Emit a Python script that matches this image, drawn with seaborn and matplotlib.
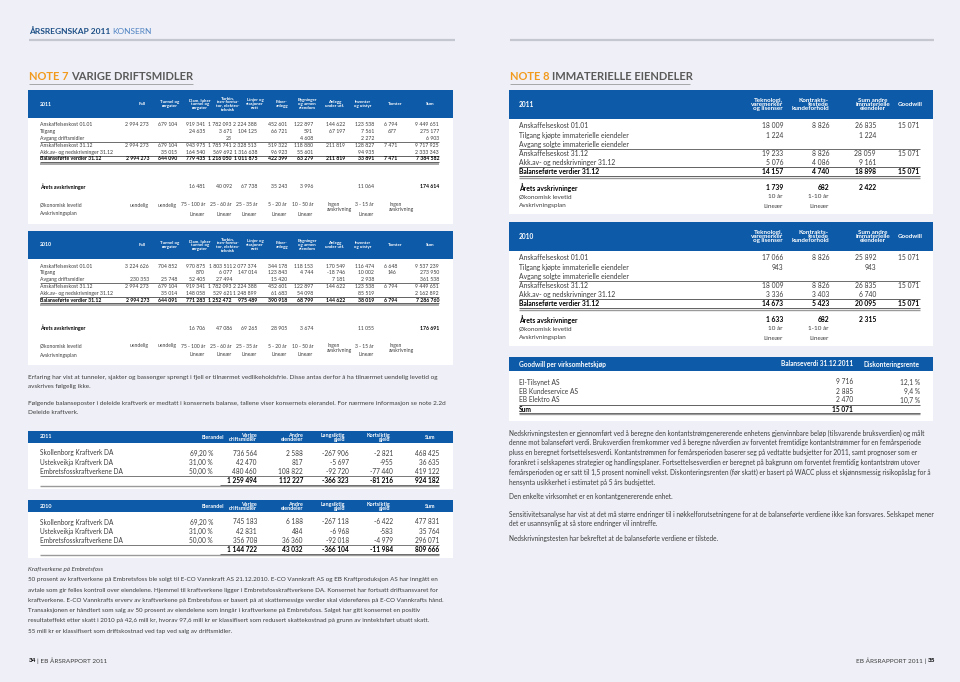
import numpy as np
import matplotlib
matplotlib.use("Agg")
import matplotlib.pyplot as plt
from matplotlib.patches import Rectangle
import seaborn as sns

# ---------------- data: note 7 varige driftsmidler ----------------
n7_heads = ["Fall", "Tunnel og\nrørgater", "Dam, luker\ntunnel og\nrørgater",
            "Turbin,\ntran-forma-\ntor, elektro-\nteknisk", "Linjer og\nstasjoner\nnett",
            "Fiber-\nanlegg", "Bygninger\nog annen\neiendom", "Anlegg\nunder utf.",
            "Inventar\nog utstyr", "Tomter", "Sum"]
n7_labels = ["Anskaffelseskost 01.01", "Tilgang", "Avgang driftsmidler", "Anskaffelseskost 31.12",
             "Akk.av- og nedskrivninger 31.12", "Balanseførte verdier 31.12"]
n7_2011 = [
    ["2 994 273", "679 104", "919 341", "1 782 093", "2 224 388", "452 601", "122 897", "144 622", "123 538", "6 794", "9 449 651"],
    ["", "", "24 635", "3 671", "104 125", "66 721", "591", "67 197", "7 561", "677", "275 177"],
    ["", "", "", "23", "", "", "4 608", "", "2 272", "", "6 903"],
    ["2 994 273", "679 104", "943 975", "1 785 741", "2 328 513", "519 322", "118 880", "211 819", "128 827", "7 471", "9 717 925"],
    ["", "35 015", "164 540", "569 692", "1 316 638", "96 923", "55 601", "", "94 935", "", "2 333 343"],
    ["2 994 273", "644 090", "779 435", "1 216 050", "1 011 875", "422 399", "63 279", "211 819", "33 891", "7 471", "7 384 582"],
]
n7_arets_2011 = ["", "", "16 481", "40 092", "67 738", "35 243", "3 996", "", "11 064", "", "174 614"]
n7_2010 = [
    ["3 224 626", "704 852", "970 875", "1 803 511", "2 077 374", "344 178", "118 153", "170 549", "116 474", "6 648", "9 537 239"],
    ["", "", "870", "6 077", "147 014", "123 843", "4 744", "-18 746", "10 002", "146", "273 950"],
    ["230 353", "25 748", "52 405", "27 494", "", "15 420", "", "7 181", "2 938", "", "361 538"],
    ["2 994 273", "679 104", "919 341", "1 782 093", "2 224 388", "452 601", "122 897", "144 622", "123 538", "6 794", "9 449 651"],
    ["", "35 014", "148 058", "529 621", "1 248 899", "61 683", "54 098", "", "85 519", "", "2 162 892"],
    ["2 994 273", "644 091", "771 283", "1 252 472", "975 489", "390 918", "68 799", "144 622", "38 019", "6 794", "7 286 760"],
]
n7_arets_2010 = ["", "", "16 706", "47 086", "69 265", "28 905", "3 674", "", "11 055", "", "176 691"]
n7_levetid = ["uendelig", "uendelig", "75 - 100 år", "25 - 60 år", "25 - 35 år", "5 - 20 år",
              "10 - 50 år", "Ingen\navskrivning", "3 - 15 år", "Ingen\navskrivning", ""]
n7_plan = ["", "", "Lineær", "Lineær", "Lineær", "Lineær", "Lineær", "", "Lineær", "", ""]

# ---------------- data: note 8 immaterielle eiendeler ----------------
n8_heads = ["Teknologi,\nvaremerker\nog lisenser", "Kontrakts-\nfestede\nkundeforhold",
            "Sum andre\nimmaterielle\neiendeler", "Goodwill"]
n8_labels = ["Anskaffelseskost 01.01", "Tilgang kjøpte immaterielle eiendeler",
             "Avgang solgte immaterielle eiendeler", "Anskaffelseskost 31.12",
             "Akk.av- og nedskrivninger 31.12", "Balanseførte verdier 31.12"]
n8_2011 = [["18 009", "8 826", "26 835", "15 071"], ["1 224", "", "1 224", ""], ["", "", "", ""],
           ["19 233", "8 826", "28 059", "15 071"], ["5 076", "4 086", "9 161", ""],
           ["14 157", "4 740", "18 898", "15 071"]]
n8_arets_2011 = ["1 739", "682", "2 422", ""]
n8_2010 = [["17 066", "8 826", "25 892", "15 071"], ["943", "", "943", ""], ["", "", "", ""],
           ["18 009", "8 826", "26 835", "15 071"], ["3 336", "3 403", "6 740", ""],
           ["14 673", "5 423", "20 095", "15 071"]]
n8_arets_2010 = ["1 633", "682", "2 315", ""]
n8_levetid = ["10 år", "1-10 år", "", ""]
n8_plan = ["Lineær", "Lineær", "", ""]

gw_names = ["El-Tilsynet AS", "EB Kundeservice AS", "EB Elektro AS"]
gw_value = ["9 716", "2 885", "2 470"]
gw_rate = ["12,1 %", "9,4 %", "10,7 %"]
gw_sum = "15 071"

# ---------------- data: deleide kraftverk ----------------
kv_heads = ["Eierandel", "Varige\ndriftsmidler", "Andre\neiendeler", "Langsiktig\ngjeld", "Kortsiktig\ngjeld", "Sum"]
kv_names = ["Skollenborg Kraftverk DA", "Ustekveikja Kraftverk DA", "Embretsfosskraftverkene DA"]
kv_2011 = [["69,20 %", "736 564", "2 588", "-267 906", "-2 821", "468 425"],
           ["31,00 %", "42 470", "817", "-5 697", "-955", "36 635"],
           ["50,00 %", "480 460", "108 822", "-92 720", "-77 440", "419 122"]]
kv_sum_2011 = ["", "1 259 494", "112 227", "-366 323", "-81 216", "924 182"]
kv_2010 = [["69,20 %", "745 183", "6 188", "-267 118", "-6 422", "477 831"],
           ["31,00 %", "42 831", "484", "-6 968", "-583", "35 764"],
           ["50,00 %", "356 708", "36 360", "-92 018", "-4 979", "296 071"]]
kv_sum_2010 = ["", "1 144 722", "43 032", "-366 104", "-11 984", "809 666"]

# ---------------- texts ----------------
txt_note7 = ["Erfaring har vist at tunneler, sjakter og bassenger sprengt i fjell er tilnærmet vedlikeholdsfrie. Disse antas derfor å ha tilnærmet uendelig levetid og",
             "avskrives følgelig ikke.",
             "",
             "Følgende balanseposter i deleide kraftverk er medtatt i konsernets balanse, tallene viser konsernets eierandel. For nærmere informasjon se note 2.2d",
             "Deleide kraftverk."]
txt_embretsfoss = ["50 prosent av kraftverkene på Embretsfoss ble solgt til E-CO Vannkraft AS 21.12.2010. E-CO Vannkraft AS og EB Kraftproduksjon AS har inngått en",
                   "avtale som gir felles kontroll over eiendelene. Hjemmel til kraftverkene ligger i Embretsfosskraftverkene DA. Konsernet har fortsatt driftsansvaret for",
                   "kraftverkene. E-CO Vannkrafts erverv av kraftverkene på Embretsfoss er basert på at skattemessige verdier skal videreføres på E-CO Vannkrafts hånd.",
                   "Transaksjonen er håndtert som salg av 50 prosent av eiendelene som inngår i kraftverkene på Embretsfoss. Salget har gitt konsernet en positiv",
                   "resultateffekt etter skatt i 2010 på 42,6 mill kr, hvorav 97,6 mill kr er klassifisert som redusert skattekostnad på grunn av inntektsført utsatt skatt.",
                   "55 mill kr er klassifisert som driftskostnad ved tap ved salg av driftsmidler."]
txt_note8 = ["Nedskrivningstesten er gjennomført ved å beregne den kontantstrømgenererende enhetens gjenvinnbare beløp (tilsvarende bruksverdien) og målt",
             "denne mot balanseført verdi. Bruksverdien fremkommer ved å beregne nåverdien av forventet fremtidige kontantstrømmer for en femårsperiode",
             "pluss en beregnet fortsettelsesverdi. Kontantstrømmen for femårsperioden baserer seg på vedtatte budsjetter for 2011, samt prognoser som er",
             "forankret i selskapenes strategier og handlingsplaner. Fortsettelsesverdien er beregnet på bakgrunn om forventet fremtidig kontantstrøm utover",
             "femårsperioden og er satt til 1,5 prosent nominell vekst. Diskonteringsrenten (før skatt) er basert på WACC pluss et skjønnsmessig risikopåslag for å",
             "hensynta usikkerhet i estimatet på 5 års budsjettet."]
txt_note8b = ["Den enkelte virksomhet er en kontantgenererende enhet.",
              "Sensitivitetsanalyse har vist at det må større endringer til i nøkkelforutsetningene for at de balanseførte verdiene ikke kan forsvares. Selskapet mener",
              "det er usannsynlig at så store endringer vil inntreffe.",
              "Nedskrivningstesten har bekreftet at de balanseførte verdiene er tilstede."]

# ---------------- style ----------------
sns.set_theme(style="white")
plt.rcParams["font.family"] = ["Lato", "DejaVu Sans"]
BG = "#eff0f7"
BLUE = "#0d5aa8"
GREY = "#3c3c3c"
ORANGE = "#f29a1d"

fig = plt.figure(figsize=(9.6, 6.82), dpi=100)
fig.patch.set_facecolor(BG)
ax = fig.add_axes([0, 0, 1, 1])
ax.set_xlim(0, 960)
ax.set_ylim(682, 0)
ax.axis("off")


def t(x, y, s, size=4.5, ha="left", va="center", weight="normal", color=GREY, style="normal", **kw):
    ax.text(x, y, s, fontsize=size, ha=ha, va=va, fontweight=weight, color=color,
            fontstyle=style, **kw)


def box(x0, y0, x1, y1, color):
    ax.add_patch(Rectangle((x0, y0), x1 - x0, y1 - y0, facecolor=color, edgecolor="none"))


def rule(x0, x1, y, color="#222222", lw=0.5):
    ax.plot([x0, x1], [y, y], color=color, lw=lw, solid_capstyle="butt")


# page header
t(29, 31, "ÅRSREGNSKAP 2011", 6.0, weight="bold", color="#1d4f86")
t(112, 31, "KONSERN", 6.0, color="#4f83c2")
rule(29, 455, 40, "#c4c7d0", 1.6)
rule(510, 934, 40, "#c4c7d0", 1.6)
t(29, 77, "NOTE 7", 8, weight="bold", color=ORANGE)
t(71, 77, "VARIGE DRIFTSMIDLER", 8, weight="bold", color="#5a5a5a")
rule(29, 193, 84, "#9a9a9a", 0.6)
t(510, 77, "NOTE 8", 8, weight="bold", color=ORANGE)
t(552, 77, "IMMATERIELLE EIENDELER", 8, weight="bold", color="#5a5a5a")
rule(510, 690, 84, "#9a9a9a", 0.6)

# ---------------- note 7 big tables ----------------
N7_X = [149, 177, 205, 232, 257, 287, 313, 345, 374, 397, 439]
N7_HX = [142, 170, 200, 228, 255, 282, 307, 335, 363, 395, 430]
INGEN_X = {7: 327, 9: 389}


def note7_table(y0, year, rows, arets):
    box(28, y0, 453, y0 + 134, "white")
    box(28, y0, 453, y0 + 28, BLUE)
    t(40, y0 + 14, year, 3.8, weight="bold", color="white")
    for x, h in zip(N7_HX, n7_heads):
        t(x, y0 + 14, h, 3.2, ha="center", weight="bold", color="white", linespacing=0.95)
    for i, (lab, vals) in enumerate(zip(n7_labels, rows)):
        y = y0 + 35 + 6.8 * i
        w = "bold" if i == 5 else "normal"
        c = "black" if i == 5 else GREY
        t(40, y, lab, 3.7, weight=w, color=c)
        for x, v in zip(N7_X, vals):
            t(x, y, v, 3.7, ha="right", weight=w, color=c)
    rule(40, 439, y0 + 35 + 6.8 * 2.5, "#555555", 0.6)
    rule(40, 439, y0 + 35 + 6.8 * 4.5, "#222222", 0.5)
    rule(40, 439, y0 + 35 + 6.8 * 5.45, "#222222", 0.5)
    rule(40, 439, y0 + 35 + 6.8 * 5.75, "#9a9a9a", 1.2)
    ya = y0 + 97
    t(40, ya, "Årets avskrivninger", 3.8, weight="bold", color="black")
    for k, (x, v) in enumerate(zip(N7_X, arets)):
        t(x, ya, v, 3.7, ha="right", weight="bold" if k == 10 else "normal",
          color="black" if k == 10 else GREY)
    yl = y0 + 115
    yp = y0 + 124
    t(40, yl, "Økonomisk levetid", 3.6)
    t(40, yp, "Avskrivningsplan", 3.6)
    for k, (x, v) in enumerate(zip(N7_X, n7_levetid)):
        if k in INGEN_X:
            t(INGEN_X[k], yl - 3, v, 3.6, va="top", linespacing=0.9)
        else:
            t(x, yl, v, 3.6, ha="right")
    for x, v in zip(N7_X, n7_plan):
        t(x, yp, v, 3.6, ha="right")


note7_table(90, "2011", n7_2011, n7_arets_2011)
note7_table(231, "2010", n7_2010, n7_arets_2010)

for i, line in enumerate(txt_note7):
    t(28, 378 + 8.6 * i, line, 4.55)

# ---------------- deleide kraftverk ----------------
KV_X = [213, 257, 303, 349, 393, 439]
KV_HX = [213, 257, 303, 345, 390, 430]


def kv_table(y0, year, rows, sums):
    box(28, y0, 453, y0 + 58, "white")
    box(28, y0, 453, y0 + 12, BLUE)
    t(40, y0 + 6, year, 3.9, weight="bold", color="white")
    for k, (x, h) in enumerate(zip(KV_HX, kv_heads)):
        t(x, y0 + 6.5, h, 3.9, ha="center" if k in (0, 5) else "right", weight="bold",
          color="white", linespacing=0.75, multialignment="right")
    for i, (name, vals) in enumerate(zip(kv_names, rows)):
        y = y0 + 22 + 9.2 * i
        t(40, y, name, 4.7)
        for x, v in zip(KV_X, vals):
            t(x, y, v, 4.7, ha="right")
    rule(40, 439, y0 + 44.5, "#444444", 0.5)
    for x, v in zip(KV_X, sums):
        t(x, y0 + 49.5, v, 4.7, ha="right", weight="bold", color="black")
    rule(220, 439, y0 + 53.5, "#222222", 0.5)
    rule(40, 439, y0 + 54.8, "#9a9a9a", 1.0)


kv_table(431, "2011", kv_2011, kv_sum_2011)
kv_table(500, "2010", kv_2010, kv_sum_2010)

t(28, 569, "Kraftverkene på Embretsfoss", 4.5, style="italic")
for i, line in enumerate(txt_embretsfoss):
    t(28, 580 + 10.2 * i, line, 4.5)

# ---------------- note 8 tables ----------------
N8_X = [783, 829, 876, 919]


def note8_table(y0, year, rows, arets):
    box(509, y0, 933, y0 + 124, "white")
    box(509, y0, 933, y0 + 29, BLUE)
    t(519, y0 + 14.5, year, 4.8, weight="bold", color="white")
    t(783, y0 + 14.5, n8_heads[0], 4.5, ha="right", weight="bold", color="white", linespacing=0.85, multialignment="right")
    t(829, y0 + 14.5, n8_heads[1], 4.5, ha="right", weight="bold", color="white", linespacing=0.85, multialignment="right")
    t(873, y0 + 14.5, n8_heads[2], 4.5, ha="center", weight="bold", color="white", linespacing=0.85)
    t(910, y0 + 14.5, n8_heads[3], 4.5, ha="center", weight="bold", color="white")
    for i, (lab, vals) in enumerate(zip(n8_labels, rows)):
        y = y0 + 36 + 9.1 * i
        w = "bold" if i == 5 else "normal"
        c = "black" if i == 5 else GREY
        t(519, y, lab, 4.85, weight=w, color=c)
        for x, v in zip(N8_X, vals):
            t(x, y, v, 4.85, ha="right", weight=w, color=c)
    rule(519, 920, y0 + 36 + 9.1 * 2.5, "#333333", 0.5)
    rule(519, 920, y0 + 36 + 9.1 * 4.5, "#222222", 0.5)
    rule(519, 920, y0 + 36 + 9.1 * 5.45, "#222222", 0.5)
    rule(519, 920, y0 + 36 + 9.1 * 5.7, "#9a9a9a", 1.0)
    t(519, y0 + 98, "Årets avskrivninger", 4.9, weight="bold", color="black")
    for x, v in zip(N8_X, arets):
        t(x, y0 + 98, v, 4.9, ha="right", weight="bold", color="black")
    t(519, y0 + 107, "Økonomisk levetid", 4.6)
    t(519, y0 + 116, "Avskrivningsplan", 4.6)
    for x, a, b in zip(N8_X, n8_levetid, n8_plan):
        t(x, y0 + 107, a, 4.6, ha="right")
        t(x, y0 + 116, b, 4.6, ha="right")


note8_table(90, "2011", n8_2011, n8_arets_2011)
note8_table(222, "2010", n8_2010, n8_arets_2010)

# goodwill per virksomhetskjøp
box(509, 357, 933, 421, "white")
box(509, 357, 933, 371, BLUE)
t(519, 364, "Goodwill per virksomhetskjøp", 4.7, weight="bold", color="white")
t(853, 364, "Balanseverdi 31.12.2011", 4.7, ha="right", weight="bold", color="white")
t(920, 364, "Diskonteringsrente", 4.7, ha="right", weight="bold", color="white")
for i, (n, v, r) in enumerate(zip(gw_names, gw_value, gw_rate)):
    y = 382 + 9 * i
    t(519, y, n, 4.75)
    t(853, y, v, 4.75, ha="right")
    t(920, y, r, 4.75, ha="right")
rule(519, 920, 404.5, "#222222", 0.5)
t(519, 409, "Sum", 4.75, weight="bold", color="black")
t(853, 409, gw_sum, 4.75, weight="bold", color="black", ha="right")
rule(519, 920, 413, "#222222", 0.5)
rule(519, 920, 414.4, "#9a9a9a", 1.0)

for i, line in enumerate(txt_note8):
    t(509, 433 + 9.8 * i, line, 4.7)
t(509, 496, txt_note8b[0], 4.7)
t(509, 514, txt_note8b[1], 4.7)
t(509, 523.5, txt_note8b[2], 4.7)
t(509, 539, txt_note8b[3], 4.7)

# footer
t(29, 661, "34", 4.6, weight="bold", color="black")
t(37, 661, "| EB ÅRSRAPPORT 2011", 4.6)
t(926, 661, "EB ÅRSRAPPORT 2011 |", 4.6, ha="right")
t(928, 661, "35", 4.6, weight="bold", color="black")

fig.savefig("out.png", dpi=100, facecolor=BG)
